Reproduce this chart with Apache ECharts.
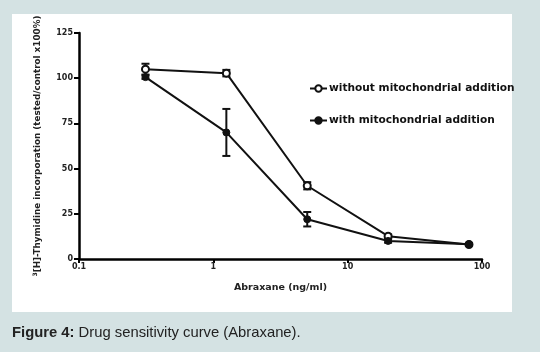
<!DOCTYPE html>
<html><head><meta charset="utf-8">
<script src="https://cdn.jsdelivr.net/npm/echarts@6/dist/echarts.min.js"></script>
<style>html,body{margin:0;padding:0;background:#d4e2e3;}#c{width:540px;height:352px;}</style>
</head><body><div id="c"></div>
<script>
const concentrations = [0.3125, 1.25, 5, 20, 80];
const withoutMito = [105, 102.8, 40.5, 12.6, 8];
const withoutErr = [3, 1.8, 2, 1, 0.5];
const withMito = [100.6, 70, 22, 10, 8.2];
const withErr = [1, 13, 4, 1, 0.5];
const seriesNames = ['without mitochondrial addition', 'with mitochondrial addition'];
const xTicks = [0.1, 1, 10, 100];
const yTicks = [0, 25, 50, 75, 100, 125];

const chart = echarts.init(document.getElementById('c'), null, {renderer: 'canvas'});
function errData(vals, errs) {
  return concentrations.map((c, i) => [c, vals[i] - errs[i], vals[i] + errs[i]]);
}
function errSeries(vals, errs) {
  return {
    type: 'custom',
    data: errData(vals, errs),
    z: 1,
    silent: true,
    renderItem: function (params, api) {
      const x = api.value(0);
      const lo = api.coord([x, api.value(1)]);
      const hi = api.coord([x, api.value(2)]);
      const w = 4;
      const st = {stroke: '#111', lineWidth: 2};
      return {type: 'group', children: [
        {type: 'line', shape: {x1: lo[0], y1: lo[1], x2: hi[0], y2: hi[1]}, style: st},
        {type: 'line', shape: {x1: lo[0] - w, y1: lo[1], x2: lo[0] + w, y2: lo[1]}, style: st},
        {type: 'line', shape: {x1: hi[0] - w, y1: hi[1], x2: hi[0] + w, y2: hi[1]}, style: st}
      ]};
    }
  };
}
const bf = 'DejaVu Sans, Arial, sans-serif';
const txt = {fontFamily: bf, fontWeight: 'bold', color: '#222'};
const cf = 'Liberation Sans, Arial, sans-serif';
chart.setOption({
  backgroundColor: '#d4e2e3',
  animation: false,
  graphic: [
    {type: 'rect', shape: {x: 12, y: 14, width: 500, height: 298}, style: {fill: '#ffffff'}, z: -10},
    {type: 'text', left: 12, top: 325, style: {
      rich: {b: {fontFamily: cf, fontWeight: 'bold', fontSize: 14.8, fill: '#222'},
             n: {fontFamily: cf, fontSize: 14.8, fill: '#222'}},
      text: '{b|Figure 4:}{n| Drug sensitivity curve (Abraxane).}'
    }}
  ],
  grid: {left: 79, right: 58, top: 33, bottom: 93},
  legend: {
    orient: 'vertical', left: 304, top: 78, itemGap: 21, itemWidth: 17, itemHeight: 8,
    data: seriesNames,
    textStyle: Object.assign({}, txt, {fontSize: 10.6, color: '#111', padding: [0, 0, 0, -3]})
  },
  xAxis: {
    type: 'log', logBase: 10, min: xTicks[0], max: xTicks[xTicks.length - 1],
    name: 'Abraxane (ng/ml)', nameLocation: 'middle', nameGap: 24,
    nameTextStyle: Object.assign({}, txt, {fontSize: 9.5}),
    axisLine: {lineStyle: {color: '#000', width: 2.5}},
    axisTick: {show: true, length: 4, lineStyle: {color: '#000', width: 2}},
    minorTick: {show: false},
    splitLine: {show: false},
    axisLabel: Object.assign({}, txt, {fontSize: 8, margin: 4, formatter: function (v) { return String(+v.toPrecision(3)); }})
  },
  yAxis: {
    type: 'value', min: yTicks[0], max: yTicks[yTicks.length - 1], interval: 25,
    name: '{s|3}[H]-Thymidine incorporation (tested/control x100%)',
    nameLocation: 'middle', nameGap: 36, nameRotate: 90,
    nameTextStyle: Object.assign({}, txt, {fontSize: 8.8, rich: {s: Object.assign({}, txt, {fontSize: 6, verticalAlign: 'top', padding: [0, 0, 5, 0]})}}),
    axisLine: {show: true, lineStyle: {color: '#000', width: 2.5}},
    axisTick: {show: true, length: 5, lineStyle: {color: '#000', width: 2}},
    splitLine: {show: false},
    axisLabel: Object.assign({}, txt, {fontSize: 8, margin: 6})
  },
  series: [
    errSeries(withoutMito, withoutErr),
    errSeries(withMito, withErr),
    {
      name: seriesNames[0], type: 'line', z: 3,
      data: concentrations.map((c, i) => [c, withoutMito[i]]),
      symbol: 'circle', symbolSize: 7,
      lineStyle: {color: '#111', width: 2},
      itemStyle: {color: '#fff', borderColor: '#111', borderWidth: 2}
    },
    {
      name: seriesNames[1], type: 'line', z: 3,
      data: concentrations.map((c, i) => [c, withMito[i]]),
      symbol: 'circle', symbolSize: 7,
      lineStyle: {color: '#111', width: 2},
      itemStyle: {color: '#111', borderColor: '#111', borderWidth: 1}
    }
  ]
});
</script></body></html>
